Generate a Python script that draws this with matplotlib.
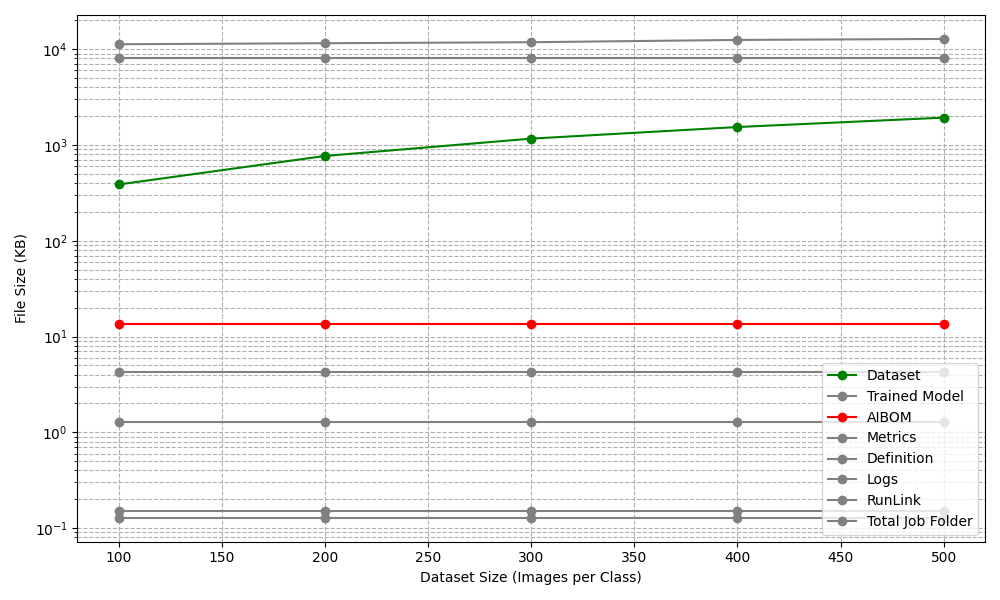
import matplotlib
matplotlib.use("Agg")
import matplotlib.pyplot as plt

sizes = [100, 200, 300, 400, 500]

dataset = [387, 768, 1165, 1540, 1930]
trained_model = [8050, 8050, 8050, 8050, 8050]
aibom = [13.6, 13.6, 13.6, 13.6, 13.6]
metrics = [1.27, 1.27, 1.27, 1.27, 1.27]
definition = [4.22, 4.22, 4.22, 4.22, 4.22]
logs = [0.150, 0.150, 0.150, 0.150, 0.150]
runlink = [0.128, 0.128, 0.128, 0.128, 0.128]
total_job = [11270, 11550, 11830, 12500, 12800]

fig, ax = plt.subplots(figsize=(10, 6))

ax.plot(sizes, dataset, 'o-', color='green', label='Dataset')
ax.plot(sizes, trained_model, 'o-', color='gray', label='Trained Model')
ax.plot(sizes, aibom, 'o-', color='red', label='AIBOM')
ax.plot(sizes, metrics, 'o-', color='gray', label='Metrics')
ax.plot(sizes, definition, 'o-', color='gray', label='Definition')
ax.plot(sizes, logs, 'o-', color='gray', label='Logs')
ax.plot(sizes, runlink, 'o-', color='gray', label='RunLink')
ax.plot(sizes, total_job, 'o-', color='gray', label='Total Job Folder')

ax.set_yscale('log')
ax.set_xlabel('Dataset Size (Images per Class)')
ax.set_ylabel('File Size (KB)')
ax.grid(True, which='both', linestyle='--')
ax.legend(loc='lower right')

plt.tight_layout()
plt.savefig('out.png', dpi=100)
